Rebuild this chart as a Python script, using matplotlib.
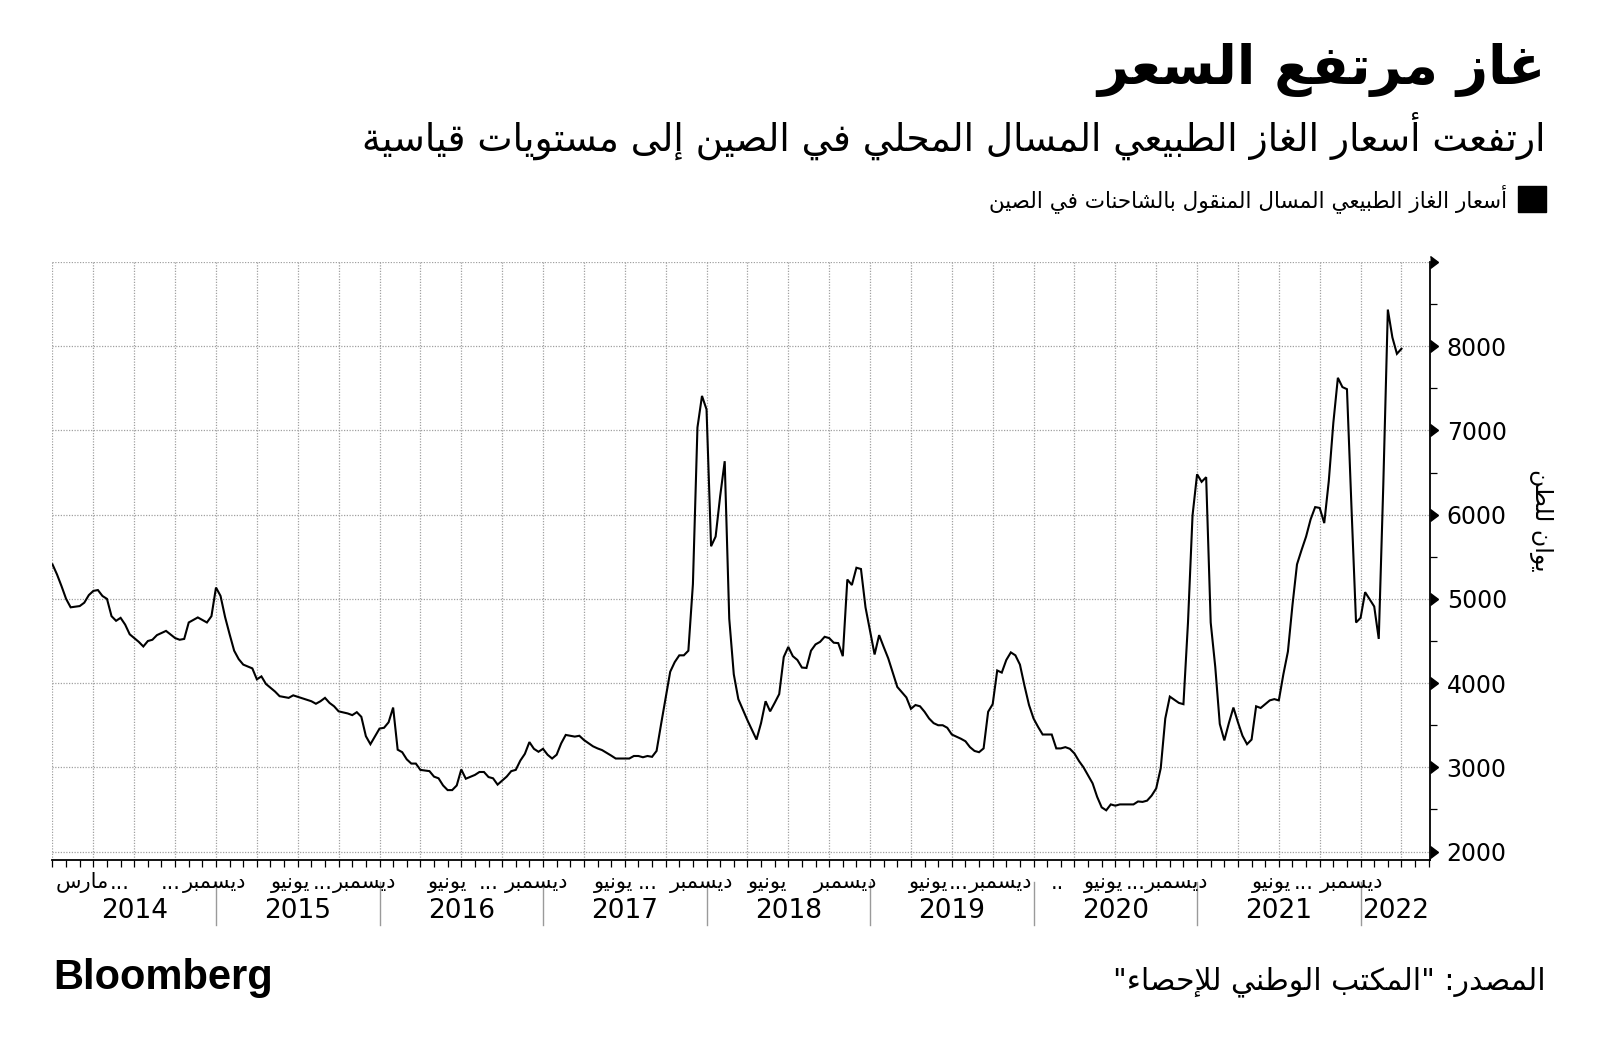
import matplotlib
matplotlib.use("Agg")
import matplotlib.pyplot as plt
import matplotlib.markers as mmarkers
from matplotlib.patches import Rectangle
from matplotlib.transforms import blended_transform_factory
from matplotlib.ticker import MultipleLocator

# ---- data: LNG truck price in China, yuan per tonne, 10-day periods since Jan 2014 ----
period = [0, 1, 2, 3, 4, 6, 7, 8, 9, 10, 11, 12, 13, 14, 15, 16, 17, 19, 20, 21,
          22, 23, 25, 27, 28, 29, 30, 32, 34, 35, 36, 37, 38, 39, 40, 41, 42, 44, 45, 46,
          47, 49, 50, 52, 53, 55, 57, 58, 59, 60, 61, 62, 63, 65, 66, 67, 68, 69, 70, 72,
          73, 74, 75, 76, 77, 78, 79, 80, 81, 83, 84, 85, 86, 87, 88, 89, 90, 91, 93, 94,
          95, 96, 97, 98, 100, 101, 102, 103, 104, 105, 106, 107, 108, 109, 110, 111, 112, 113, 115, 116,
          117, 119, 120, 121, 123, 124, 125, 127, 128, 129, 130, 131, 132, 133, 134, 136, 137, 138, 139, 140,
          141, 142, 143, 144, 145, 146, 147, 148, 149, 150, 151, 153, 154, 155, 156, 157, 158, 159, 160, 161,
          162, 163, 164, 165, 166, 167, 168, 169, 170, 171, 172, 173, 174, 175, 176, 177, 178, 179, 181, 182,
          183, 184, 185, 186, 188, 189, 190, 191, 192, 193, 194, 195, 196, 197, 198, 200, 201, 202, 203, 204,
          205, 206, 207, 208, 209, 210, 211, 212, 213, 214, 215, 216, 217, 218, 220, 221, 222, 223, 224, 225,
          226, 227, 229, 230, 231, 232, 233, 234, 235, 238, 239, 240, 241, 242, 243, 244, 245, 246, 248, 249,
          250, 251, 252, 253, 254, 255, 256, 257, 258, 259, 260, 261, 262, 263, 264, 265, 266, 268, 269, 270,
          271, 272, 273, 274, 275, 276, 277, 278, 279, 280, 281, 282, 283, 284, 285, 286, 287, 288, 289, 291,
          292, 293, 294, 295, 296, 297]
price = [5410, 5290, 5150, 5000, 4900, 4915, 4955, 5045, 5095, 5105, 5035, 5000, 4795, 4740, 4775, 4695, 4580, 4490, 4435, 4500,
         4515, 4570, 4620, 4535, 4515, 4525, 4720, 4780, 4720, 4795, 5135, 5035, 4785, 4580, 4385, 4285, 4220, 4175, 4045, 4080,
         3990, 3900, 3845, 3825, 3855, 3820, 3785, 3755, 3785, 3825, 3765, 3725, 3665, 3640, 3620, 3655, 3600, 3370, 3275, 3460,
         3470, 3535, 3710, 3210, 3180, 3095, 3045, 3045, 2970, 2955, 2890, 2870, 2785, 2730, 2730, 2785, 2975, 2865, 2910, 2945,
         2945, 2885, 2870, 2795, 2890, 2955, 2970, 3080, 3160, 3300, 3220, 3185, 3220, 3150, 3105, 3150, 3285, 3385, 3365, 3375,
         3325, 3250, 3225, 3205, 3140, 3105, 3105, 3105, 3135, 3135, 3120, 3135, 3125, 3195, 3515, 4135, 4250, 4330, 4330, 4385,
         5175, 7035, 7410, 7250, 5625, 5740, 6220, 6635, 4765, 4105, 3810, 3560, 3445, 3330, 3525, 3785, 3665, 3765, 3870, 4310,
         4430, 4320, 4275, 4185, 4180, 4385, 4460, 4490, 4550, 4535, 4480, 4475, 4320, 5230, 5165, 5370, 5355, 4900, 4340, 4570,
         4430, 4295, 4125, 3955, 3830, 3695, 3740, 3725, 3660, 3580, 3525, 3500, 3500, 3470, 3390, 3340, 3310, 3240, 3195, 3180,
         3225, 3660, 3750, 4150, 4125, 4275, 4365, 4330, 4220, 3970, 3740, 3580, 3480, 3390, 3390, 3225, 3225, 3240, 3220, 3165,
         3075, 3000, 2810, 2650, 2525, 2490, 2560, 2545, 2560, 2560, 2595, 2590, 2605, 2665, 2750, 2990, 3580, 3840, 3765, 3750,
         4720, 5990, 6480, 6390, 6445, 4720, 4195, 3515, 3320, 3525, 3710, 3535, 3375, 3275, 3330, 3725, 3705, 3795, 3810, 3795,
         4105, 4375, 4925, 5410, 5580, 5740, 5945, 6090, 6080, 5900, 6400, 7090, 7625, 7515, 7490, 6080, 4720, 4775, 5080, 4910,
         4525, 6355, 8435, 8105, 7910, 7970]

y_ticks = [2000, 3000, 4000, 5000, 6000, 7000, 8000]
years = ["2014", "2015", "2016", "2017", "2018", "2019", "2020", "2021", "2022"]
month_text = ["مارس", "...", "...", "ديسمبر",
              "يونيو", "...", "ديسمبر",
              "يونيو", "...", "ديسمبر",
              "يونيو", "...", "ديسمبر",
              "يونيو", "ديسمبر",
              "يونيو", "...", "ديسمبر", "..",
              "يونيو", "...", "ديسمبر",
              "يونيو", "...", "ديسمبر"]
month_pos = [6.6, 14.9, 26.1, 35.6,
             52.5, 59.4, 68.8,
             86.9, 96.1, 106.5,
             123.6, 131.0, 142.8,
             157.5, 174.5,
             192.8, 199.6, 208.8, 221.2,
             231.5, 238.4, 247.4,
             268.3, 275.5, 286.1]

title = "غاز مرتفع السعر"
subtitle = "ارتفعت أسعار الغاز الطبيعي المسال المحلي في الصين إلى مستويات قياسية"
legend_label = "أسعار الغاز الطبيعي المسال المنقول بالشاحنات في الصين"
y_label = "يوان للطن"
source = 'المصدر: "المكتب الوطني للإحصاء"'

# ---- minimal arabic shaping (presentation forms + visual order) ----
FORMS = {
    'ء': ('\uFE80', None, None, None),
    'آ': ('\uFE81', '\uFE82', None, None),
    'أ': ('\uFE83', '\uFE84', None, None),
    'ؤ': ('\uFE85', '\uFE86', None, None),
    'إ': ('\uFE87', '\uFE88', None, None),
    'ئ': ('\uFE89', '\uFE8A', '\uFE8B', '\uFE8C'),
    'ا': ('\uFE8D', '\uFE8E', None, None),
    'ب': ('\uFE8F', '\uFE90', '\uFE91', '\uFE92'),
    'ة': ('\uFE93', '\uFE94', None, None),
    'ت': ('\uFE95', '\uFE96', '\uFE97', '\uFE98'),
    'ث': ('\uFE99', '\uFE9A', '\uFE9B', '\uFE9C'),
    'ج': ('\uFE9D', '\uFE9E', '\uFE9F', '\uFEA0'),
    'ح': ('\uFEA1', '\uFEA2', '\uFEA3', '\uFEA4'),
    'خ': ('\uFEA5', '\uFEA6', '\uFEA7', '\uFEA8'),
    'د': ('\uFEA9', '\uFEAA', None, None),
    'ذ': ('\uFEAB', '\uFEAC', None, None),
    'ر': ('\uFEAD', '\uFEAE', None, None),
    'ز': ('\uFEAF', '\uFEB0', None, None),
    'س': ('\uFEB1', '\uFEB2', '\uFEB3', '\uFEB4'),
    'ش': ('\uFEB5', '\uFEB6', '\uFEB7', '\uFEB8'),
    'ص': ('\uFEB9', '\uFEBA', '\uFEBB', '\uFEBC'),
    'ض': ('\uFEBD', '\uFEBE', '\uFEBF', '\uFEC0'),
    'ط': ('\uFEC1', '\uFEC2', '\uFEC3', '\uFEC4'),
    'ظ': ('\uFEC5', '\uFEC6', '\uFEC7', '\uFEC8'),
    'ع': ('\uFEC9', '\uFECA', '\uFECB', '\uFECC'),
    'غ': ('\uFECD', '\uFECE', '\uFECF', '\uFED0'),
    'ف': ('\uFED1', '\uFED2', '\uFED3', '\uFED4'),
    'ق': ('\uFED5', '\uFED6', '\uFED7', '\uFED8'),
    'ك': ('\uFED9', '\uFEDA', '\uFEDB', '\uFEDC'),
    'ل': ('\uFEDD', '\uFEDE', '\uFEDF', '\uFEE0'),
    'م': ('\uFEE1', '\uFEE2', '\uFEE3', '\uFEE4'),
    'ن': ('\uFEE5', '\uFEE6', '\uFEE7', '\uFEE8'),
    'ه': ('\uFEE9', '\uFEEA', '\uFEEB', '\uFEEC'),
    'و': ('\uFEED', '\uFEEE', None, None),
    'ى': ('\uFEEF', '\uFEF0', None, None),
    'ي': ('\uFEF1', '\uFEF2', '\uFEF3', '\uFEF4'),
}
LAM_ALEF = {'آ': ('\uFEF5', '\uFEF6'), 'أ': ('\uFEF7', '\uFEF8'),
            'إ': ('\uFEF9', '\uFEFA'), 'ا': ('\uFEFB', '\uFEFC')}


def joins_forward(ch):
    return ch in FORMS and FORMS[ch][2] is not None


def ar(text):
    out = []
    i = 0
    n = len(text)
    while i < n:
        ch = text[i]
        if ch not in FORMS:
            out.append(ch)
            i += 1
            continue
        prev_j = i > 0 and joins_forward(text[i - 1])
        if ch == 'ل' and i + 1 < n and text[i + 1] in LAM_ALEF:
            lig = LAM_ALEF[text[i + 1]]
            out.append(lig[1] if prev_j else lig[0])
            i += 2
            continue
        next_j = joins_forward(ch) and i + 1 < n and text[i + 1] in FORMS
        iso, fin, ini, med = FORMS[ch]
        if prev_j and next_j:
            out.append(med)
        elif prev_j:
            out.append(fin)
        elif next_j:
            out.append(ini)
        else:
            out.append(iso)
        i += 1
    return ''.join(out)[::-1]


plt.rcParams['font.family'] = ['DejaVu Sans']

fig = plt.figure(figsize=(16, 10.56), dpi=100)
ax = fig.add_axes([0.0328, 0.1856, 0.8610, 0.5663])

ax.plot(period, price, color="black", lw=1.5, solid_joinstyle="miter", zorder=3)

x_end = 303.3
ax.set_xlim(0, x_end)
ax.set_ylim(1900, 9000)

# grid
ax.xaxis.set_major_locator(MultipleLocator(9))
ax.xaxis.set_minor_locator(MultipleLocator(3))
ax.yaxis.set_major_locator(MultipleLocator(1000))
ax.yaxis.set_minor_locator(MultipleLocator(500))
ax.grid(True, which="major", color="#a0a0a0", linestyle=(0, (1, 1.2)), lw=0.9)
ax.set_axisbelow(True)

for s in ["left", "top"]:
    ax.spines[s].set_visible(False)
ax.spines["right"].set_linewidth(1.3)
ax.spines["bottom"].set_linewidth(1.3)

ax.tick_params(axis="x", which="both", direction="out", length=5, width=0.9,
               labelbottom=False, color="black")
ax.yaxis.tick_right()
ax.tick_params(axis="y", which="major", length=0, pad=12, labelsize=17)
ax.tick_params(axis="y", which="minor", direction="out", length=5, width=0.9)
ax.set_yticks(list(range(2000, 9001, 1000)))
ax.set_yticklabels([str(v) for v in y_ticks] + [""])

# arrow-like ticks on the right axis
tri = blended_transform_factory(ax.transAxes, ax.transData)
ax.plot([1.0] * 8, list(range(2000, 9001, 1000)), linestyle="none",
        marker=mmarkers.CARETRIGHTBASE, markersize=8, color="black",
        transform=tri, clip_on=False, zorder=5)

# month / year labels below the axis
tx = blended_transform_factory(ax.transData, ax.transAxes)
for p, t in zip(month_pos, month_text):
    ax.text(p, -0.038, ar(t), transform=tx, ha="center", va="center", fontsize=15)
for i, y in enumerate(years):
    start = i * 36
    stop = min(start + 36, x_end)
    ax.text((start + stop) / 2, -0.086, y, transform=tx, ha="center", va="center",
            fontsize=19)
    if i > 0:
        ax.plot([start, start], [-0.037, -0.109], color="#9a9a9a", lw=1,
                transform=tx, clip_on=False)

# titles, legend, labels
fig.text(0.96625, 0.934, ar(title), ha="right", va="center", fontsize=39,
         fontweight="bold")
fig.text(0.96625, 0.871, ar(subtitle), ha="right", va="center", fontsize=27)
fig.add_artist(Rectangle((0.94875, 0.7992), 0.0175, 0.0246, color="black",
                         transform=fig.transFigure))
fig.text(0.9419, 0.8116, ar(legend_label), ha="right", va="center", fontsize=15.5)
fig.text(0.963, 0.5076, ar(y_label), ha="center", va="center", fontsize=17,
         rotation=270)
fig.text(0.033, 0.074, "Bloomberg", ha="left", va="center", fontsize=30,
         fontweight="bold", family="Liberation Sans")
fig.text(0.96625, 0.070, ar(source), ha="right", va="center", fontsize=21.5)

fig.savefig("out.png", dpi=100)
